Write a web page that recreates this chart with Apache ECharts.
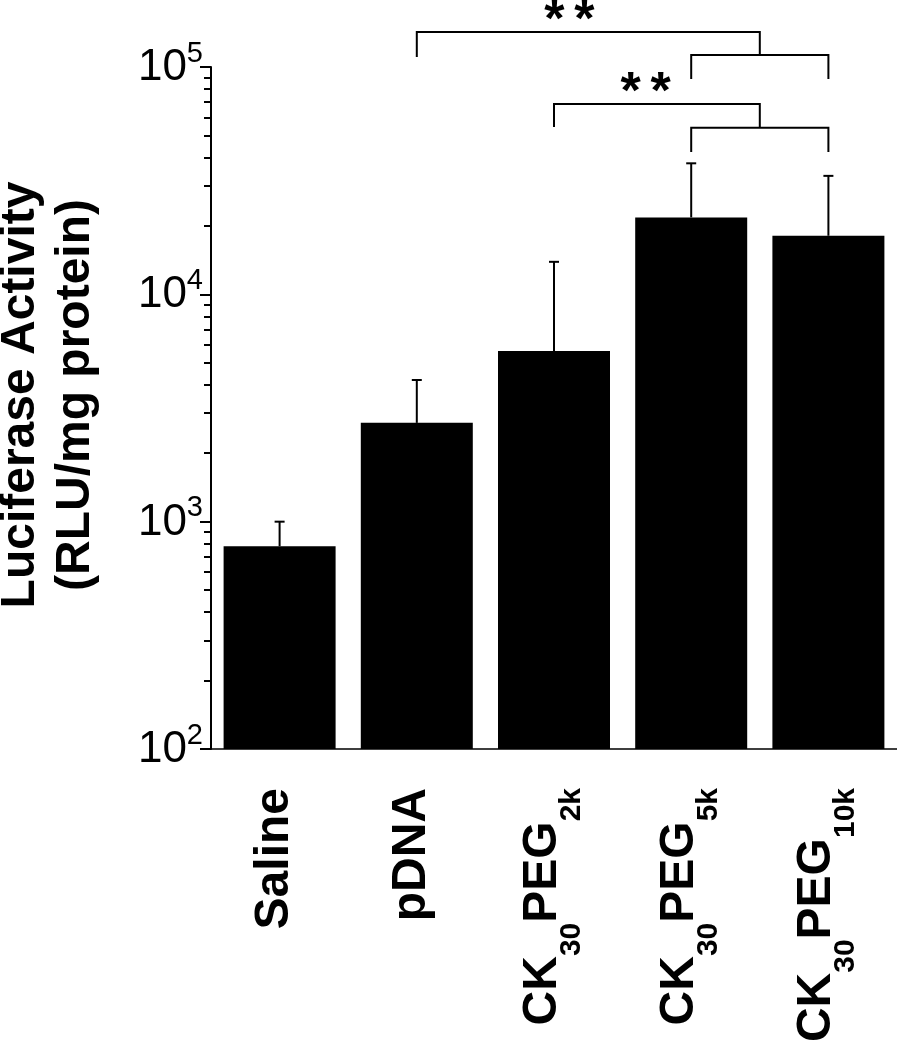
<!DOCTYPE html>
<html>
<head>
<meta charset="utf-8">
<script src="https://cdn.jsdelivr.net/npm/echarts@6/dist/echarts.min.js"></script>
<style>
  html, body { margin: 0; padding: 0; background: #fff; }
  #chart { width: 897px; height: 1050px; }
</style>
</head>
<body>
<div id="chart"></div>
<script>
var categories = ['Saline', 'pDNA', 'CK30PEG2k', 'CK30PEG5k', 'CK30PEG10k'];
// mean luciferase activity (RLU/mg protein) and top of the error bar
var means = [780, 2720, 5640, 21800, 18100];
var errTop = [1000, 4200, 13900, 37700, 33200];

// significance brackets: left group, right pair, levels (data units)
var bracketLeft = [1, 2];
var bracketPairLeft = [3, 3];
var bracketPairRight = [4, 4];
var bracketTop = [142600, 68700];
var bracketLeftEnd = [110700, 54400];
var bracketPairLevel = [113000, 54000];
var bracketPairEnd = [88500, 42300];
var bracketMark = ['**', '**'];

var majorTicks = [100, 1000, 10000, 100000];
var minorTicks = [200, 300, 400, 500, 600, 700, 800, 900,
  2000, 3000, 4000, 5000, 6000, 7000, 8000, 9000,
  20000, 30000, 40000, 50000, 60000, 70000, 80000, 90000];

var font = 'Liberation Sans, Arial, Helvetica, sans-serif';

var chart = echarts.init(document.getElementById('chart'), null, { renderer: 'canvas' });

// CK30PEG2k -> CK with subscript 30, PEG with subscript 2k
function catLabel(name) {
  var m = /^CK(\d+)PEG(\d+k)$/.exec(name);
  if (!m) return '{m|' + name + '}';
  return '{c|CK}{s|' + m[1] + '}{c|PEG}{s|' + m[2] + '}';
}

var errData = means.map(function(v, i) { return [i, v, errTop[i]]; });
var bracketData = bracketLeft.map(function(l, i) {
  return [l, bracketPairLeft[i], bracketPairRight[i], bracketTop[i],
    bracketLeftEnd[i], bracketPairLevel[i], bracketPairEnd[i]];
});

var gridBox = { left: 211, right: 0, top: 67, bottom: 301, containLabel: false, outerBoundsMode: 'none' };

chart.setOption({
  animation: false,
  textStyle: { fontFamily: font, color: '#000' },
  grid: [
    Object.assign({}, gridBox),
    Object.assign({}, gridBox)
  ],
  xAxis: [
    {
      type: 'category',
      gridIndex: 0,
      data: categories,
      axisLine: { lineStyle: { color: '#000', width: 1.5 } },
      axisTick: { show: false },
      axisLabel: {
        interval: 0,
        rotate: 90,
        margin: 39,
        color: '#000',
        padding: [0, 0, 10, 0],
        formatter: catLabel,
        rich: {
          m: { fontFamily: font, fontSize: 48, fontWeight: 'bold', lineHeight: 48, verticalAlign: 'top', color: '#000' },
          c: { fontFamily: font, fontSize: 48, fontWeight: 'bold', lineHeight: 61, verticalAlign: 'top', color: '#000' },
          s: { fontFamily: font, fontSize: 30, fontWeight: 'bold', lineHeight: 30, verticalAlign: 'top', padding: [38, 0, 0, 0], color: '#000' }
        }
      }
    },
    {
      type: 'category',
      gridIndex: 1,
      data: categories,
      show: false
    }
  ],
  yAxis: [
    {
      type: 'log',
      gridIndex: 0,
      logBase: 10,
      min: 100,
      max: 100000,
      name: 'Luciferase Activity\n(RLU/mg protein)',
      nameLocation: 'middle',
      nameGap: 108,
      nameRotate: 90,
      nameTextStyle: { fontFamily: font, fontSize: 48, fontWeight: 'bold', lineHeight: 55, color: '#000', padding: [0, 0, 0, 26] },
      axisLine: { show: true, lineStyle: { color: '#000', width: 2 } },
      axisTick: { show: true, length: 11, lineStyle: { color: '#000', width: 2 } },
      splitLine: { show: false },
      axisLabel: {
        margin: 8,
        color: '#000',
        padding: [0, 0, 5, 0],
        formatter: function(v) {
          return '{a|10}{b|' + Math.round(Math.log10(v)) + '}';
        },
        rich: {
          a: { fontFamily: font, fontSize: 44, lineHeight: 51, verticalAlign: 'bottom', color: '#000' },
          b: { fontFamily: font, fontSize: 29, lineHeight: 29, verticalAlign: 'top', color: '#000' }
        }
      }
    },
    {
      type: 'value',
      gridIndex: 1,
      min: 2,
      max: 5,
      axisLine: { show: false },
      axisLabel: { show: false },
      splitLine: { show: false },
      axisTick: {
        show: true,
        length: 7,
        lineStyle: { color: '#000', width: 2 },
        customValues: minorTicks.map(function(v) { return Math.log10(v); })
      }
    }
  ],
  series: [
    {
      type: 'bar',
      xAxisIndex: 0,
      yAxisIndex: 0,
      data: means,
      barWidth: 112,
      itemStyle: { color: '#000' },
      silent: true
    },
    {
      type: 'custom',
      xAxisIndex: 0,
      yAxisIndex: 0,
      data: errData,
      encode: { x: 0, y: [1, 2] },
      z: 5,
      silent: true,
      renderItem: function(params, api) {
        var base = api.coord([api.value(0), api.value(1)]);
        var top = api.coord([api.value(0), api.value(2)]);
        var st = { stroke: '#000', lineWidth: 2 };
        return {
          type: 'group',
          children: [
            { type: 'line', shape: { x1: base[0], y1: base[1], x2: base[0], y2: top[1] }, style: st },
            { type: 'line', shape: { x1: base[0] - 5, y1: top[1], x2: base[0] + 5, y2: top[1] }, style: st }
          ]
        };
      }
    },
    {
      type: 'custom',
      xAxisIndex: 0,
      yAxisIndex: 0,
      data: bracketData,
      encode: { x: [0, 1, 2], y: [3, 4, 5, 6] },
      clip: false,
      z: 6,
      silent: true,
      renderItem: function(params, api) {
        var top = api.coord([api.value(0), api.value(3)]);
        var legL = api.coord([api.value(0), api.value(4)]);
        var a = api.coord([api.value(1), api.value(5)]);
        var b = api.coord([api.value(2), api.value(5)]);
        var legP = api.coord([api.value(1), api.value(6)]);
        var mid = (a[0] + b[0]) / 2;
        var st = { stroke: '#000', lineWidth: 2, fill: null };
        var sx = top[0] + 0.445 * (mid - top[0]);
        var sy = top[1] - 10;
        var mark = bracketMark[params.dataIndex];
        var starStyle = function(ch) {
          return { text: ch, fontSize: 52, fontWeight: 'bold', fontFamily: font, fill: '#000', align: 'center', verticalAlign: 'middle' };
        };
        return {
          type: 'group',
          children: [
            { type: 'polyline', shape: { points: [[top[0], legL[1]], [top[0], top[1]], [mid, top[1]], [mid, a[1]]] }, style: st },
            { type: 'polyline', shape: { points: [[a[0], legP[1]], [a[0], a[1]], [b[0], a[1]], [b[0], legP[1]]] }, style: st },
            { type: 'text', x: sx - 15, y: sy, style: starStyle(mark.charAt(0)) },
            { type: 'text', x: sx + 15, y: sy, style: starStyle(mark.charAt(1)) }
          ]
        };
      }
    }
  ]
});

window.addEventListener('resize', function() { chart.resize(); });
</script>
</body>
</html>
